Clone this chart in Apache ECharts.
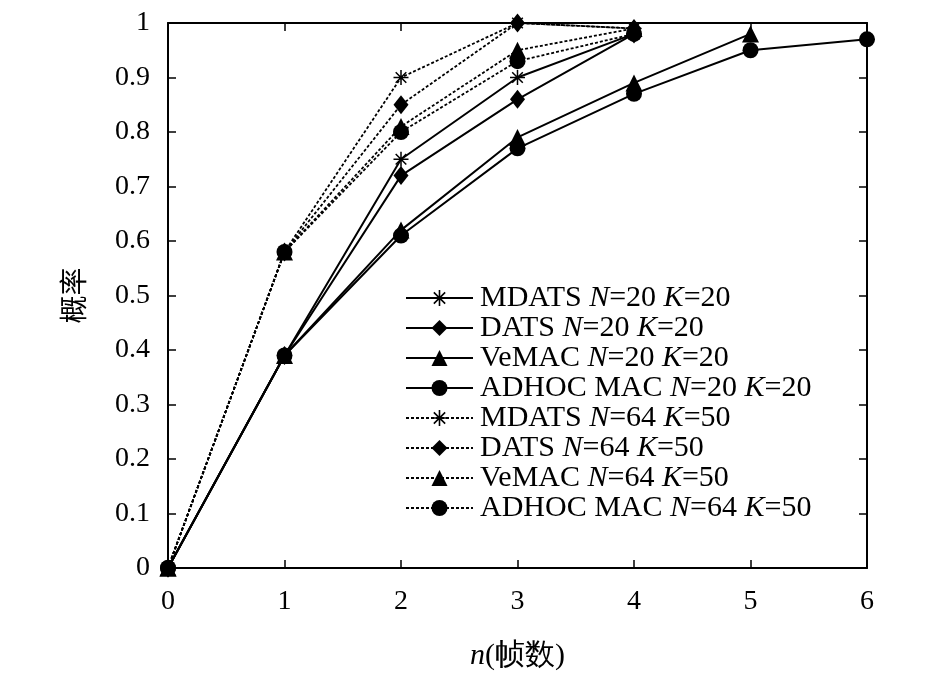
<!DOCTYPE html>
<html>
<head>
<meta charset="utf-8">
<script src="https://cdn.jsdelivr.net/npm/echarts@6/dist/echarts.min.js"></script>
<style>
  html, body { margin: 0; padding: 0; background: #fff; }
  #main { width: 945px; height: 676px; }
</style>
</head>
<body>
<div id="main"></div>
<script>
// 横轴：帧数 n
var frames = [0, 1, 2, 3, 4, 5, 6];
var yTicks = [0, 0.1, 0.2, 0.3, 0.4, 0.5, 0.6, 0.7, 0.8, 0.9, 1];

var seriesNames = [
  "MDATS N=20 K=20", "DATS N=20 K=20", "VeMAC N=20 K=20", "ADHOC MAC N=20 K=20",
  "MDATS N=64 K=50", "DATS N=64 K=50", "VeMAC N=64 K=50", "ADHOC MAC N=64 K=50"
];

// N=20 K=20
var mdats20 = [0, 0.39, 0.75, 0.90, 0.98];
var dats20 = [0, 0.39, 0.72, 0.86, 0.98];
var vemac20 = [0, 0.39, 0.62, 0.79, 0.89, 0.98];
var adhoc20 = [0, 0.39, 0.61, 0.77, 0.87, 0.95, 0.97];
// N=64 K=50
var mdats64 = [0, 0.58, 0.90, 1.00, 0.99];
var dats64 = [0, 0.58, 0.85, 1.00, 0.99];
var vemac64 = [0, 0.58, 0.81, 0.95, 0.99];
var adhoc64 = [0, 0.58, 0.80, 0.93, 0.98];

// 星号
var star = "path://M-1,-10L1,-10L1,10L-1,10Z M-10,-1L10,-1L10,1L-10,1Z " +
  "M6.36,-7.78L7.78,-6.36L-6.36,7.78L-7.78,6.36Z M-7.78,-6.36L-6.36,-7.78L7.78,6.36L6.36,7.78Z";

var values = [mdats20, dats20, vemac20, adhoc20, mdats64, dats64, vemac64, adhoc64];
var symbols = [star, "diamond", "triangle", "circle", star, "diamond", "triangle", "circle"];
var sizes = [15, [15, 19], 17, 16, 15, [15, 19], 17, 16];

function pairs(arr) {
  return arr.map(function (v, i) { return [frames[i], v]; });
}

var series = values.map(function (arr, k) {
  var dashed = k >= 4;
  return {
    name: seriesNames[k],
    type: "line",
    data: pairs(arr),
    symbol: symbols[k],
    symbolSize: sizes[k],
    showAllSymbol: true,
    itemStyle: { color: "#000" },
    lineStyle: dashed ? { color: "#000", width: 1.8, type: [3, 2] } : { color: "#000", width: 2 },
    z: dashed ? 3 : 2
  };
});

var font = "Liberation Serif, Times New Roman, serif";

function boxAxis(pos, isX) {
  return {
    type: "value",
    position: pos,
    min: 0,
    max: isX ? 6 : 1,
    interval: isX ? 1 : 0.1,
    axisLine: { show: true, onZero: false, lineStyle: { color: "#000", width: 2 } },
    axisTick: { show: true, inside: true, length: 8, lineStyle: { color: "#000", width: 1.5 } },
    axisLabel: { show: false },
    splitLine: { show: false }
  };
}

var myChart = echarts.init(document.getElementById("main"));
var option = {
  animation: false,
  backgroundColor: "#fff",
  grid: { left: 168, right: 78, top: 23, bottom: 108 },
  legend: {
    orient: "vertical",
    left: 405,
    top: 283,
    padding: 0,
    itemWidth: 67,
    itemHeight: 20,
    itemGap: 0,
    data: seriesNames,
    formatter: function (name) {
      return name.replace("N=", "{i|N}=").replace("K=", "{i|K}=");
    },
    textStyle: {
      fontFamily: font,
      fontSize: 30,
      color: "#000",
      lineHeight: 30,
      padding: [0, 0, 0, 2],
      rich: {
        i: { fontFamily: font, fontSize: 30, fontStyle: "italic", color: "#000", lineHeight: 30 }
      }
    }
  },
  xAxis: [{
    type: "value",
    min: 0,
    max: 6,
    interval: 1,
    name: "{i|n}(帧数)",
    nameLocation: "middle",
    nameGap: 73,
    nameTextStyle: {
      fontFamily: font,
      fontSize: 30,
      color: "#000",
      rich: {
        i: { fontFamily: font, fontSize: 30, fontStyle: "italic", color: "#000" }
      }
    },
    axisLine: { onZero: false, lineStyle: { color: "#000", width: 2 } },
    axisTick: { inside: true, length: 8, lineStyle: { color: "#000", width: 1.5 } },
    axisLabel: { fontFamily: font, fontSize: 28, color: "#000", margin: 20 },
    splitLine: { show: false }
  }, boxAxis("top", true)],
  yAxis: [{
    type: "value",
    min: 0,
    max: 1,
    interval: 0.1,
    name: "概率",
    nameLocation: "middle",
    nameRotate: 90,
    nameGap: 81,
    nameTextStyle: { fontFamily: "Noto Sans CJK SC", fontSize: 28, color: "#000" },
    axisLine: { show: true, onZero: false, lineStyle: { color: "#000", width: 2 } },
    axisTick: { show: true, inside: true, length: 8, lineStyle: { color: "#000", width: 1.5 } },
    axisLabel: {
      fontFamily: font, fontSize: 28, color: "#000", margin: 18,
      formatter: function (v) {
        var t = yTicks.find(function (y) { return Math.abs(y - v) < 1e-6; });
        return t === undefined ? "" : String(t);
      }
    },
    splitLine: { show: false }
  }, boxAxis("right", false)],
  series: series
};
myChart.setOption(option);
</script>
</body>
</html>
